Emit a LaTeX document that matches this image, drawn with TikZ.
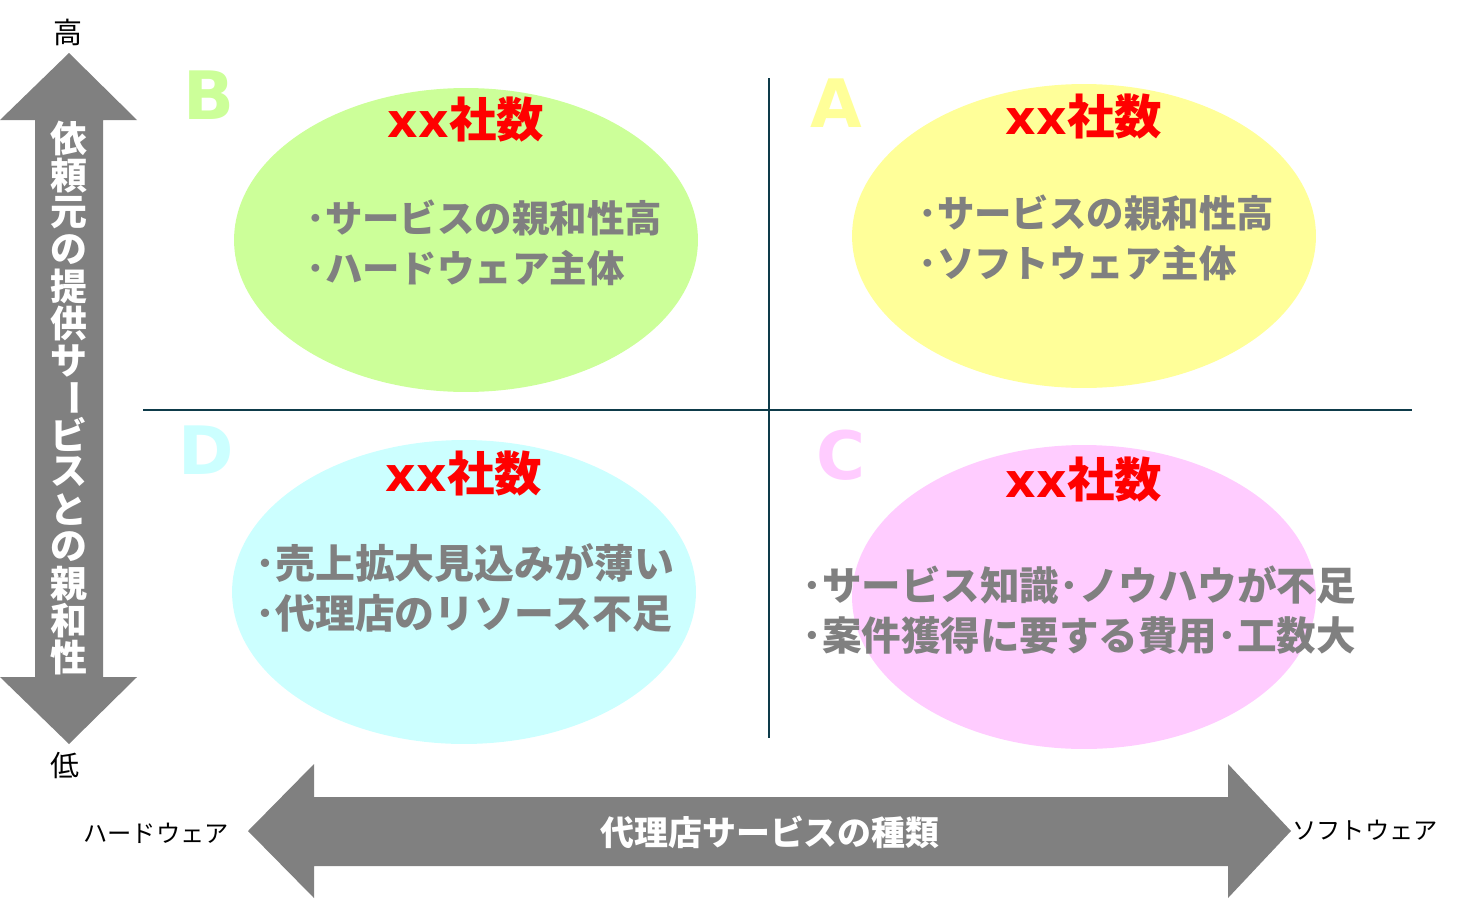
\documentclass[tikz,border=0pt]{standalone}
\usepackage{fontspec}
\setmainfont{Noto Sans CJK JP}
\newfontfamily\latinbold{DejaVu Sans}
\usetikzlibrary{shapes.geometric}

\definecolor{bfill}{HTML}{CCFF99}
\definecolor{afill}{HTML}{FFFF99}
\definecolor{dfill}{HTML}{CCFFFF}
\definecolor{cfill}{HTML}{FFCCFF}
\definecolor{arrowgray}{HTML}{808080}
\definecolor{axisblue}{HTML}{0E3B4A}

\tikzset{
  quad/.style={ellipse, minimum width=9.28cm, minimum height=6.08cm, inner sep=0pt},
  letter/.style={inner sep=0pt, font=\fontsize{38}{38}\latinbold\bfseries},
  countlabel/.style={inner sep=0pt, text=red, font=\fontsize{27}{27}\selectfont\bfseries},
  points/.style={anchor=west, align=left, inner sep=0pt, text=arrowgray},
  axisline/.style={axisblue, line width=1.1pt},
  vtext/.style={inner sep=0pt, text=white, font=\fontsize{21}{21}\selectfont\bfseries},
  endlabel/.style={inner sep=0pt, font=\fontsize{13.8}{13.8}\selectfont}
}
\newcommand{\firms}{{\latinbold xx}社数}

\begin{document}
\begin{tikzpicture}[x=0.02cm, y=-0.02cm]
  \useasboundingbox (0,0) rectangle (1459,899);

  % quadrant ellipses
  \node[quad, fill=bfill] (ellB) at (466,240) {};
  \node[quad, fill=afill] (ellA) at (1084,236) {};
  \node[quad, fill=dfill] (ellD) at (464,592) {};
  \node[quad, fill=cfill] (ellC) at (1084,597) {};

  % axes
  \coordinate (hl) at (143,410);
  \coordinate (hr) at (1412,410);
  \coordinate (vt) at (769,78);
  \coordinate (vb) at (769,738);
  \draw[axisline] (hl) -- (hr);
  \draw[axisline] (vt) -- (vb);

  % quadrant letters
  \node[letter, text=bfill] (labB) at (209,95) {B};
  \node[letter, text=afill] (labA) at (836,103) {A};
  \node[letter, text=dfill] (labD) at (206,450) {D};
  \node[letter, text=cfill] (labC) at (841,455) {C};

  % counts
  \node[countlabel] (cntB) at (466,120) {\firms};
  \node[countlabel] (cntA) at (1084,117) {\firms};
  \node[countlabel] (cntD) at (464,474) {\firms};
  \node[countlabel] (cntC) at (1084,480) {\firms};

  % bullet texts
  \node[points, font=\fontsize{21.3}{28.3}\selectfont\bfseries] (txtB) at (306,243)
    {･サービスの親和性高\\･ハードウェア主体};
  \node[points, font=\fontsize{21.3}{28.3}\selectfont\bfseries] (txtA) at (918,238)
    {･サービスの親和性高\\･ソフトウェア主体};
  \node[points, font=\fontsize{22.7}{28.3}\selectfont\bfseries] (txtD) at (255,588)
    {･売上拡大見込みが薄い\\･代理店のリソース不足};
  \node[points, font=\fontsize{22.5}{28.8}\selectfont\bfseries] (txtC) at (802,610)
    {･サービス知識･ノウハウが不足\\･案件獲得に要する費用･工数大};

  % vertical arrow
  \fill[arrowgray] (69,53) -- (137,120) -- (103,120) -- (103,677) -- (137,677)
    -- (69,744) -- (0,677) -- (35,677) -- (35,120) -- (0,120) -- cycle;
  \foreach \ch [count=\i] in {依,頼,元,の,提,供,サ,{\rotatebox[origin=c]{-90}{ー}},ビ,ス,と,の,親,和,性}
    \node[vtext] (v\i) at (69,101+\i*37.1) {\ch};
  \node[endlabel, font=\fontsize{16.5}{16.5}\selectfont] (high) at (68,32) {高};
  \node[endlabel, font=\fontsize{16.5}{16.5}\selectfont] (low) at (65,765) {低};

  % horizontal arrow
  \fill[arrowgray] (248,831) -- (314,764) -- (314,797) -- (1228,797) -- (1228,764)
    -- (1291,831) -- (1228,898) -- (1228,866) -- (314,866) -- (314,898) -- cycle;
  \node[vtext, font=\fontsize{19.3}{19.3}\selectfont\bfseries] (kind) at (770,832) {代理店サービスの種類};
  \node[endlabel] (hard) at (156,833) {ハードウェア};
  \node[endlabel] (soft) at (1365,830) {ソフトウェア};
\end{tikzpicture}
\end{document}
